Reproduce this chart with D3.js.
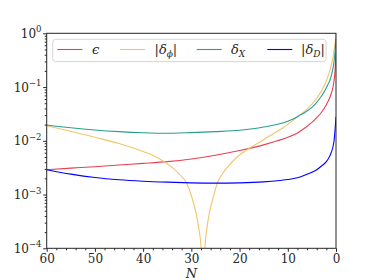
<!DOCTYPE html>
<html><head><meta charset="utf-8">
<script src="https://cdn.jsdelivr.net/npm/d3@7"></script>
<style>body{margin:0;background:#fff}svg{display:block}</style>
</head><body><svg id="c" width="374" height="280"></svg>
<script>
// ---- data ----
const epsN   = [60,55,50,45,40,35,30,25,20,15,12,10,8,6.4,5,4,3,2,1,0.5,0.2,0];
const epsV   = [0.0029,0.0031,0.0033,0.00355,0.0038,0.0041,0.0046,0.0054,0.0066,0.0084,0.0101,0.0116,0.014,0.0175,0.022,0.027,0.034,0.047,0.075,0.115,0.2,0.45];

const dphiN  = [60,55,50,45,40,37.5,35.5,33.8,32.35,30.96,29.93,29.03,28.41,27.99,27.58,27.17,26.82,26.27,25.44,24.61,23.7,22.67,20.5,17.8,15,13,11,8.9,7.5,6.4,5,4,3,2,1,0.5,0.2,0];
const dphiV  = [0.019,0.015,0.0116,0.0089,0.0063,0.0051,0.0040,0.0031,0.00231,0.00162,0.00091,0.00045,0.00022,0.000107,0.000001,0.000107,0.00022,0.00045,0.00091,0.00162,0.00231,0.0031,0.005,0.0074,0.0105,0.0135,0.0175,0.024,0.030,0.036,0.048,0.062,0.085,0.13,0.25,0.42,0.65,1.0];

const dXN    = [60,55,50,45,40,35,30,25,20,15,10,8,7.5,6.4,5,4,3,2,1,0.5,0.2,0];
const dXV    = [0.0197,0.0175,0.0159,0.0148,0.0141,0.0138,0.0142,0.0148,0.0157,0.018,0.023,0.028,0.030,0.034,0.042,0.052,0.068,0.097,0.16,0.26,0.45,0.8];

const dDN    = [60,55,50,45,40,35,30,25,20,15,11.6,10,8,6.4,5,4,3,2,1.5,1,0.5,0.35,0.2,0.1,0];
const dDV    = [0.0029,0.0024,0.00207,0.00188,0.00177,0.0017,0.00165,0.00163,0.00165,0.00172,0.00183,0.0019,0.00205,0.0023,0.0026,0.0029,0.0034,0.0041,0.0048,0.006,0.0088,0.011,0.016,0.021,0.028];

const xTicks = [60,50,40,30,20,10,0];
const yTicks = [1,0.1,0.01,0.001,0.0001];
const yTickExp = ["0","\u22121","\u22122","\u22123","\u22124"];

// ---- layout ----
const FONT = "DejaVu Serif";
const svg = d3.select("#c");
const L = 46.7, R = 336, T = 33.3, B = 248.3;
const x = d3.scaleLinear().domain([60,0]).range([L,R]);
const y = d3.scaleLog().domain([1e-4,1]).range([B,T]);
const ink = "#262626";

svg.append("defs").append("clipPath").attr("id","clip")
  .append("rect").attr("x",L).attr("y",T).attr("width",R-L).attr("height",B-T);

const series = [
  {N:epsN, V:epsV, color:"#e8404f"},
  {N:dphiN,V:dphiV,color:"#f2c46d"},
  {N:dXN,  V:dXV,  color:"#2a9d8f"},
  {N:dDN,  V:dDV,  color:"#0000ff"}
];
const line = d3.line().x(d=>x(d[0])).y(d=>y(d[1])).curve(d3.curveMonotoneX);
const g = svg.append("g").attr("clip-path","url(#clip)");
series.forEach(s=>{
  g.append("path").datum(s.N.map((n,i)=>[n,s.V[i]]))
   .attr("d",line).attr("fill","none").attr("stroke",s.color).attr("stroke-width",1.1);
});

// ---- axes ----
const xMinor = d3.range(0,61,2).filter(v=>v%10!==0);
const xa = svg.append("g").attr("transform",`translate(0,${B})`)
  .call(d3.axisBottom(x).tickValues(xTicks).tickSize(3.5).tickPadding(3).tickFormat(d3.format("d")));
xa.attr("font-family",FONT).attr("font-size",12);
xa.select(".domain").remove();
xa.selectAll("text").attr("fill",ink);
xa.selectAll("line").attr("stroke",ink);
svg.append("g").attr("transform",`translate(0,${B})`)
  .call(d3.axisBottom(x).tickValues(xMinor).tickSize(2).tickFormat(""))
  .call(a=>{a.select(".domain").remove();a.selectAll("line").attr("stroke",ink);});

const ya = svg.append("g").attr("transform",`translate(${L},0)`)
  .call(d3.axisLeft(y).tickValues(yTicks).tickSize(3.5).tickFormat(""));
ya.select(".domain").remove();
ya.selectAll("line").attr("stroke",ink);
const yMinor = [];
[1e-4,1e-3,1e-2,1e-1].forEach(d=>{for(let k=2;k<10;k++) yMinor.push(d*k);});
svg.append("g").attr("transform",`translate(${L},0)`)
  .call(d3.axisLeft(y).tickValues(yMinor).tickSize(2).tickFormat(""))
  .call(a=>{a.select(".domain").remove();a.selectAll("line").attr("stroke",ink);});

yTicks.forEach((v,i)=>{
  const t = svg.append("text").attr("x",41.5).attr("y",y(v)+4.5).attr("text-anchor","end")
    .attr("font-size",12).attr("font-family",FONT).attr("fill",ink);
  t.append("tspan").text("10");
  t.append("tspan").attr("dy",-5.5).attr("font-size",8.5).text(yTickExp[i]);
});

svg.append("rect").attr("x",L).attr("y",T).attr("width",R-L).attr("height",B-T)
  .attr("fill","none").attr("stroke",ink).attr("stroke-width",1);

svg.append("text").attr("x",(L+R)/2).attr("y",277.5).attr("text-anchor","middle").attr("fill",ink)
  .attr("font-size",13).attr("font-style","italic").attr("font-family",FONT).text("N");

// ---- legend ----
const lg = svg.append("g");
lg.append("rect").attr("x",52.7).attr("y",39.3).attr("width",273.3).attr("height",22.3).attr("rx",3)
  .attr("fill","#fff").attr("fill-opacity",0.8).attr("stroke","#d6d6d6").attr("stroke-width",1);
const lx = [57.3,120,196.7,267.3];
series.forEach((s,i)=>{
  lg.append("line").attr("x1",lx[i]).attr("x2",lx[i]+25).attr("y1",49.5).attr("y2",49.5)
    .attr("stroke",s.color).attr("stroke-width",1.1);
});
function lt(xp){return lg.append("text").attr("x",xp).attr("y",54).attr("font-size",13).attr("fill",ink).attr("font-family",FONT);}
let t0 = lt(92); t0.append("tspan").attr("font-style","italic").text("\u03f5");
let t1 = lt(154.5); t1.append("tspan").text("|"); t1.append("tspan").attr("font-style","italic").text("\u03b4");
  t1.append("tspan").attr("font-style","italic").attr("font-size",9).attr("dy",3).text("\u03d5");
  t1.append("tspan").attr("dy",-3).text("|");
let t2 = lt(231); t2.append("tspan").attr("font-style","italic").text("\u03b4");
  t2.append("tspan").attr("font-style","italic").attr("font-size",9).attr("dy",3).text("X");
let t3 = lt(301); t3.append("tspan").text("|"); t3.append("tspan").attr("font-style","italic").text("\u03b4");
  t3.append("tspan").attr("font-style","italic").attr("font-size",9).attr("dy",3).text("D");
  t3.append("tspan").attr("dy",-3).text("|");
</script></body></html>
